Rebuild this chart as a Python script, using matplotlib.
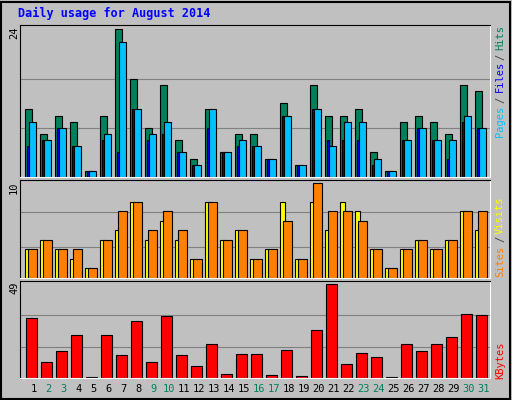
import numpy as np
import matplotlib.pyplot as plt
from matplotlib.patches import Rectangle

days = list(range(1, 32))
hits = [11, 7, 10, 9, 1, 10, 24, 16, 8, 15, 6, 3, 11, 4, 7, 7, 3, 12, 2, 15, 10, 10, 11, 4, 1, 9, 10, 9, 7, 15, 14]
files = [9, 6, 8, 5, 1, 7, 22, 11, 7, 9, 4, 2, 11, 4, 6, 5, 3, 10, 2, 11, 5, 9, 9, 3, 1, 6, 8, 6, 6, 10, 8]
pages = [5, 6, 8, 5, 1, 6, 4, 11, 6, 7, 4, 2, 8, 4, 5, 5, 3, 10, 2, 11, 6, 6, 6, 2, 1, 6, 8, 6, 3, 9, 8]
visits = [3, 4, 3, 2, 1, 4, 5, 8, 4, 6, 4, 2, 8, 4, 5, 2, 3, 8, 2, 8, 5, 8, 7, 3, 1, 3, 4, 3, 4, 7, 5]
sites = [3, 4, 3, 3, 1, 4, 7, 8, 5, 7, 5, 2, 8, 4, 5, 2, 3, 6, 2, 10, 7, 7, 6, 3, 1, 3, 4, 3, 4, 7, 7]
kbytes = [31.3, 8.2, 14.1, 22.2, 0.7, 22.2, 12, 29.7, 8.2, 32.4, 12, 6.1, 17.9, 2.3, 12.5, 12.5,
          1.8, 14.7, 1.2, 24.9, 49, 7.2, 13.1, 10.9, 0.7, 17.9, 14.1, 17.9, 21.1, 33.5, 32.9]
weekend = [2, 3, 9, 10, 16, 17, 23, 24, 30, 31]

W, H = 512, 400
bg = '#C0C0C0'
slot = 15.0  # pixels per day
fig = plt.figure(figsize=(W / 100, H / 100), dpi=100, facecolor=bg)
fig.patches.append(Rectangle((1 / W, 1 / H), 1 - 3 / W, 1 - 3 / H, transform=fig.transFigure,
                             fill=False, edgecolor='black', lw=1.5))

def panel(top, bottom, ymax):
    ax = fig.add_axes([20 / W, 1 - bottom / H, 470 / W, (bottom - top) / H])
    ax.set_facecolor(bg)
    ax.set_xlim(0, 470 / slot)
    ax.set_ylim(0, ymax * 1.03)
    ax.set_xticks([])
    ax.set_yticks([])
    for s in ['top', 'left']:
        ax.spines[s].set_color('black')
    for s in ['bottom', 'right']:
        ax.spines[s].set_color('white')
    return ax

x = np.arange(31)
kw = dict(align='edge', edgecolor='black', linewidth=0.8)

ax1 = panel(25, 177, 24)
for g in [8, 16]:
    ax1.axhline(g, color='#808080', lw=0.8, zorder=0)
ax1.bar(x + 0.33, hits, 0.5, color='#00805C', **kw)
ax1.bar(x + 0.44, pages, 0.15, color='#0000FF', **kw)
ax1.bar(x + 0.59, files, 0.5, color='#00C0FF', **kw)

ax2 = panel(180, 278, 10)
for g in [3.3, 6.9]:
    ax2.axhline(g, color='#808080', lw=0.8, zorder=0)
ax2.bar(x + 0.33, visits, 0.35, color='#FFFF00', **kw)
ax2.bar(x + 0.55, sites, 0.55, color='#FF8000', **kw)

ax3 = panel(281, 378, 49)
for g in [16.3, 32.7]:
    ax3.axhline(g, color='#808080', lw=0.8, zorder=0)
ax3.bar(x + 0.4, kbytes, 0.7, color='#FF0000', **kw)

font = dict(family='DejaVu Sans Mono', fontsize=7.5)
def ftext(px, py, s, color='black', rot=0, **k):
    fig.text(px / W, 1 - py / H, s, color=color, rotation=rot, ha='center', va='center', **font, **k)

fig.text(18 / W, 1 - 13 / H, 'Daily usage for August 2014', color='#0000FF', fontweight='bold',
         family='DejaVu Sans Mono', fontsize=8.5, ha='left', va='center')

ftext(14, 33, '24', rot=90)
ftext(14, 188, '10', rot=90)
ftext(14, 288, '49', rot=90)

for word, py, c in [('Hits', 37, '#00805C'), ('/', 57, '#404040'), ('Files', 76, '#0000FF'),
                    ('/', 100, '#404040'), ('Pages', 121, '#00C0FF'),
                    ('Visits', 215, '#FFFF00'), ('/', 239, '#404040'), ('Sites', 261, '#FF8000'),
                    ('KBytes', 360, '#FF0000')]:
    ftext(500, py, word, color=c, rot=90)

for d in days:
    c = '#00805C' if d in weekend else 'black'
    ftext(20 + (d - 1) * slot + 13.5, 389, str(d), color=c)

fig.savefig('out.png', dpi=100, facecolor=bg)
